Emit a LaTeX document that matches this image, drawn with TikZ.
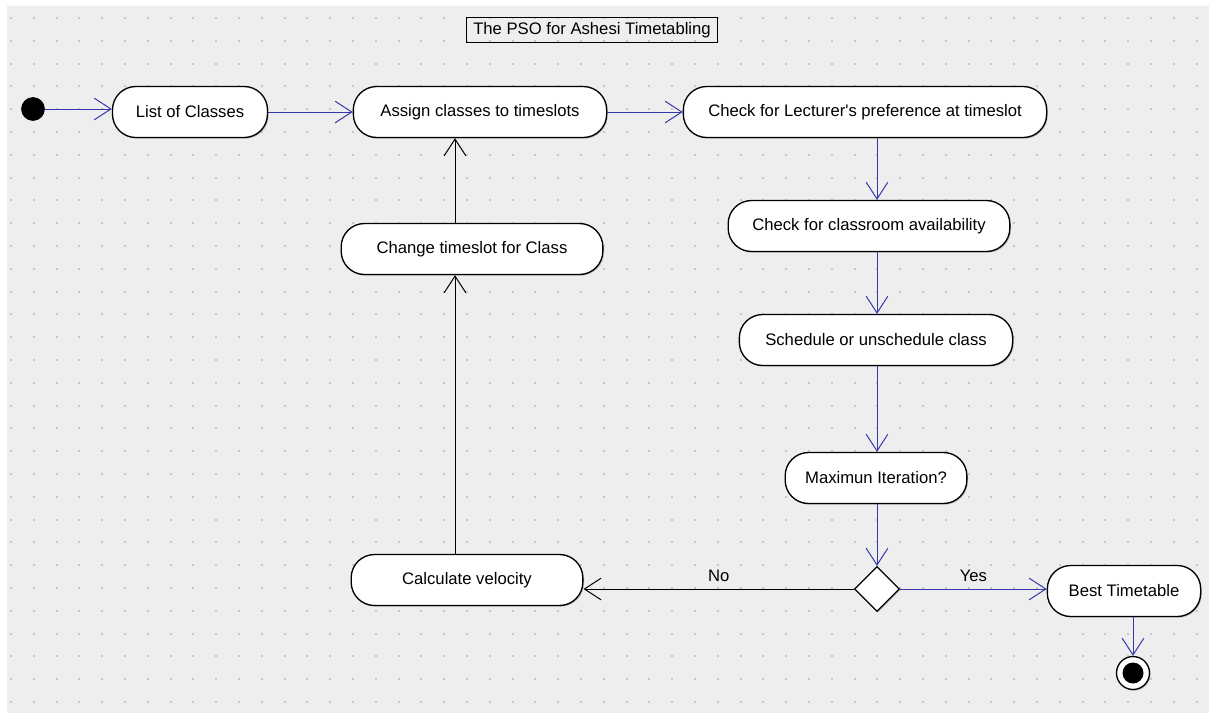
\documentclass[tikz,border=0pt]{standalone}
\usepackage{fontspec}
\setmainfont{Liberation Sans}
\usetikzlibrary{arrows.meta, shapes.geometric, shadows}
\definecolor{flowblue}{RGB}{55,55,170}
\definecolor{canvas}{RGB}{238,238,238}
\definecolor{griddot}{RGB}{198,198,198}
\tikzset{
    activity/.style={draw, line width=0.8pt, fill=white, rounded corners=14pt,
        minimum height=30.6pt, inner sep=2pt, font=\fontsize{10}{12}\selectfont,
        drop shadow={shadow xshift=0.7pt, shadow yshift=-0.7pt, fill=black!45}},
    flow/.style={draw=flowblue, line width=0.6pt, -{Straight Barb[length=10pt, width=13pt]}},
    back/.style={draw=black, line width=0.6pt, -{Straight Barb[length=10pt, width=13pt]}},
    guard/.style={font=\fontsize{10}{12}\selectfont, above, inner sep=4pt}
}

\begin{document}
\begin{tikzpicture}[x=0.6pt, y=-0.6pt]
\useasboundingbox (0,0) rectangle (1209,713);
\fill[white] (0,0) rectangle (1209,713);
\fill[canvas] (7,6) rectangle (1209,713);

% dotted grid
\foreach \i in {0,...,52}
{
    \foreach \j in {0,...,30}
    {
        \fill[griddot] ({10+22.8*\i},{17+22.8*\j}) rectangle +(2,2);
    }
};

\node[draw, line width=0.5pt, minimum width=151pt, minimum height=15pt, inner sep=1pt,
    font=\fontsize{10}{12}\selectfont] (title) at (592,30) {The PSO for Ashesi Timetabling};

% top row
\node[circle, fill=black, draw, minimum size=13.8pt, inner sep=0pt] (init) at (33,109) {};
\node[activity, minimum width=93pt] (list) at (190,112) {List of Classes};
\node[activity, minimum width=152pt] (assign) at (480,112) {Assign classes to timeslots};
\node[activity, minimum width=218pt] (lecturer) at (865,112) {Check for Lecturer\textquotesingle s preference at timeslot};

% right column
\coordinate (spine) at (877,0);
\node[activity, minimum width=169pt] (room) at (869,226) {Check for classroom availability};
\node[activity, minimum width=164pt] (schedule) at (876,340) {Schedule or unschedule class};
\node[activity, minimum width=109pt] (maxiter) at (876,478) {Maximun Iteration?};
\node[diamond, draw, line width=0.8pt, fill=white, minimum size=27pt, inner sep=0pt,
    drop shadow={shadow xshift=0.7pt, shadow yshift=-0.7pt, fill=black!45}] (decide) at (877,589) {};
\node[activity, minimum width=92pt] (best) at (1124,591) {Best Timetable};
\node[circle, draw, line width=0.8pt, fill=white, minimum size=19.8pt, inner sep=0pt,
    drop shadow={shadow xshift=0.7pt, shadow yshift=-0.7pt, fill=black!45}] (final) at (1133,673) {};
\node[circle, fill=black, minimum size=12.6pt, inner sep=0pt] (finaldot) at (final) {};

% left loop
\coordinate (loopx) at (455,0);
\node[activity, minimum width=139pt] (velocity) at (467,580) {Calculate velocity};
\node[activity, minimum width=157pt] (change) at (472,249) {Change timeslot for Class};

\draw[flow] (init) -- (init -| list.west);
\draw[flow] (list) -- (assign);
\draw[flow] (assign) -- (lecturer);
\draw[flow] (lecturer.south -| spine) -- (room.north -| spine);
\draw[flow] (room.south -| spine) -- (schedule.north -| spine);
\draw[flow] (schedule.south -| spine) -- (maxiter.north -| spine);
\draw[flow] (maxiter.south -| spine) -- (decide.north);
\draw[flow] (decide.east) -- node[guard] {Yes} (decide.east -| best.west);
\draw[flow] (best.south -| final) -- (final.north);
\draw[back] (decide.west) -- node[guard] {No} (decide.west -| velocity.east);
\draw[back] (velocity.north -| loopx) -- (change.south -| loopx);
\draw[back] (change.north -| loopx) -- (assign.south -| loopx);
\end{tikzpicture}
\end{document}
